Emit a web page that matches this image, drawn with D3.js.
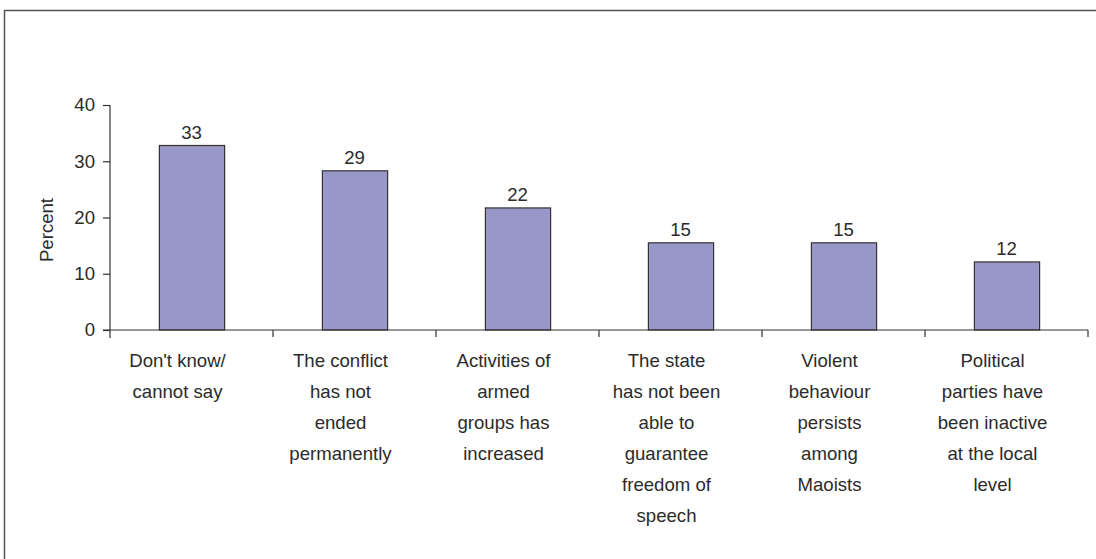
<!DOCTYPE html>
<html>
<head>
<meta charset="utf-8">
<script src="https://cdn.jsdelivr.net/npm/d3@7"></script>
<style>
  html, body { margin: 0; padding: 0; background: #fff; }
  svg { display: block; }
  text { font-family: "Liberation Sans", Arial, sans-serif; fill: #2b2b2b; }
</style>
</head>
<body>
<script>
const categories = [
  ["Don't know/", "cannot say"],
  ["The conflict", "has not", "ended", "permanently"],
  ["Activities of", "armed", "groups has", "increased"],
  ["The state", "has not been", "able to", "guarantee", "freedom of", "speech"],
  ["Violent", "behaviour", "persists", "among", "Maoists"],
  ["Political", "parties have", "been inactive", "at the local", "level"]
];
const values = [32.8, 28.3, 21.7, 15.5, 15.5, 12.1];
const valueLabels = ["33", "29", "22", "15", "15", "12"];
const yTicks = [0, 10, 20, 30, 40];
const yTitle = "Percent";

const W = 1096, H = 559;
const FS = 18.6;
const svg = d3.select("body").append("svg").attr("width", W).attr("height", H);

// frame
svg.append("path")
  .attr("d", `M4.5,${H + 5} L4.5,10.5 L${W + 5},10.5`)
  .attr("fill", "none").attr("stroke", "#555").attr("stroke-width", 1.5);

const x0 = 110, x1 = 1088, yBase = 330, yTop = 105;
const x = d3.scaleBand().domain(d3.range(categories.length)).range([x0, x1]).paddingInner(0.6).paddingOuter(0.3);
const xb = d3.scaleBand().domain(d3.range(categories.length)).range([x0, x1]);
const y = d3.scaleLinear().domain([0, 40]).range([yBase, yTop]);

// bars
svg.selectAll("rect.bar").data(values).join("rect")
  .attr("class", "bar")
  .attr("x", (d, i) => x(i) + 0.5)
  .attr("y", d => y(d))
  .attr("width", x.bandwidth())
  .attr("height", d => y(0) - y(d))
  .attr("fill", "#9996c8")
  .attr("stroke", "#333").attr("stroke-width", 1.2);

// value labels
svg.selectAll("text.val").data(values).join("text")
  .attr("class", "val")
  .attr("x", (d, i) => xb(i) + xb.bandwidth() / 2)
  .attr("y", d => y(d) - 7)
  .attr("text-anchor", "middle")
  .attr("font-size", FS)
  .text((d, i) => valueLabels[i]);

// y axis
const yAxis = d3.axisLeft(y).tickValues(yTicks).tickSize(7).tickPadding(8);
const gy = svg.append("g").attr("transform", `translate(${x0},0)`).call(yAxis);
gy.select(".domain").attr("stroke", "#333").attr("stroke-width", 1.2).attr("d", `M0,${yTop}V${yBase + 8}`);
gy.selectAll(".tick line").attr("stroke", "#333").attr("stroke-width", 1.2);
gy.selectAll(".tick text").attr("font-size", FS).attr("fill", "#2b2b2b")
  .attr("font-family", "Liberation Sans, Arial, sans-serif");

// x axis line and tick marks at band boundaries
svg.append("line").attr("x1", x0 - 7).attr("x2", x1).attr("y1", yBase).attr("y2", yBase)
  .attr("stroke", "#333").attr("stroke-width", 1.2);
const bounds = d3.range(1, categories.length + 1).map(i => i < categories.length ? xb(i) : xb(i - 1) + xb.bandwidth());
svg.selectAll("line.xt").data(bounds).join("line")
  .attr("class", "xt")
  .attr("x1", d => d).attr("x2", d => d)
  .attr("y1", yBase).attr("y2", yBase + 7)
  .attr("stroke", "#333").attr("stroke-width", 1.2);

// category labels (the source centres them slightly left of each bar)
const labelShift = -14;
const lab = svg.selectAll("text.cat").data(categories).join("text")
  .attr("class", "cat")
  .attr("text-anchor", "middle")
  .attr("font-size", FS);
lab.each(function(lines, i) {
  const cx = xb(i) + xb.bandwidth() / 2 + labelShift;
  d3.select(this).selectAll("tspan").data(lines).join("tspan")
    .attr("x", cx)
    .attr("y", (d, j) => 367 + j * 31)
    .text(d => d);
});

// y title
svg.append("text")
  .attr("transform", "translate(53,230) rotate(-90)")
  .attr("text-anchor", "middle")
  .attr("font-size", FS)
  .text(yTitle);
</script>
</body>
</html>
